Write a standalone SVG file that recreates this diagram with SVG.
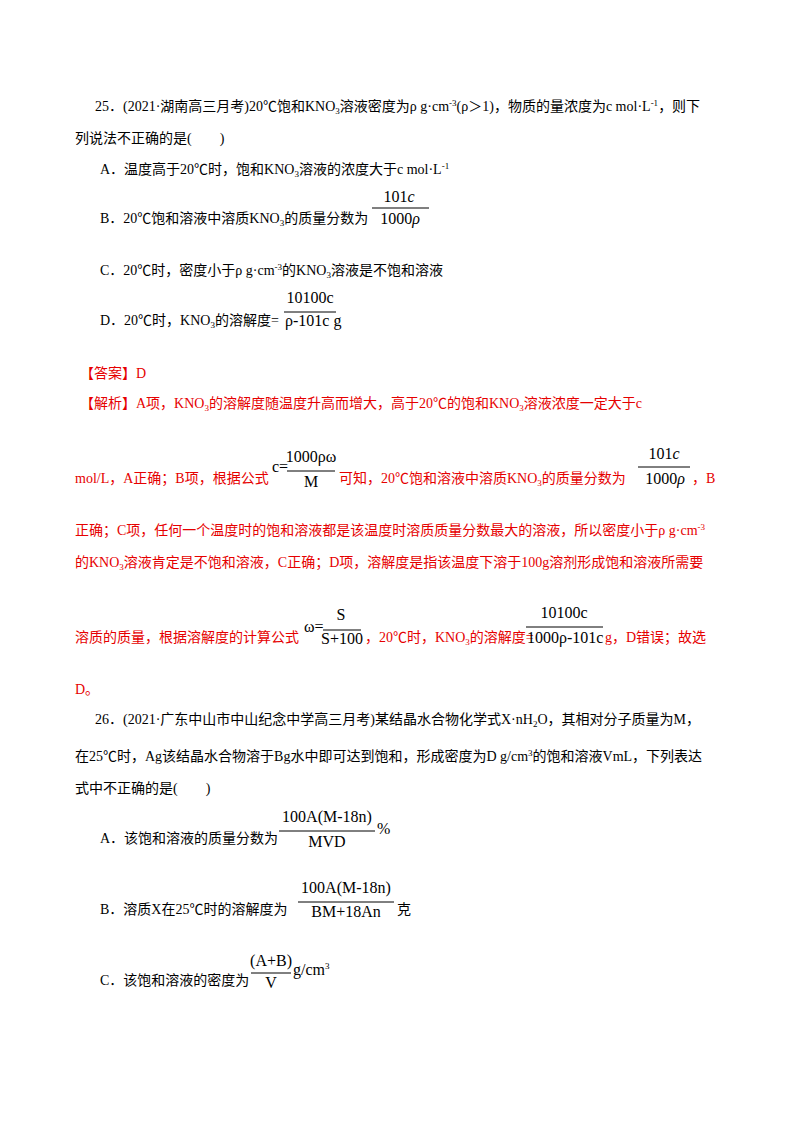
<svg xmlns="http://www.w3.org/2000/svg" width="800" height="1132" viewBox="0 0 800 1132">
<style>
text{font-family:"Liberation Serif","Noto Sans CJK SC",serif;font-size:14px;fill:#000}
.r{fill:#e60000}
.m{font-size:16px}
.i{font-style:italic}
line{stroke:#000;stroke-width:1}
</style>
<rect width="800" height="1132" fill="#fff"/>
<text x="95" y="111">25．(2021·湖南高三月考)20℃饱和KNO<tspan font-size="9" dy="3">3</tspan><tspan dy="-3">溶液密度为ρ g·cm</tspan><tspan font-size="9" dy="-5">-3</tspan><tspan dy="5">(ρ＞1)，物质的量浓度为c mol·L</tspan><tspan font-size="9" dy="-5">-1</tspan><tspan dy="5">，则下</tspan></text>
<text x="75" y="143">列说法不正确的是(　　)</text>
<text x="100" y="174">A．温度高于20℃时，饱和KNO<tspan font-size="9" dy="3">3</tspan><tspan dy="-3">溶液的浓度大于c mol·L</tspan><tspan font-size="9" dy="-5">-1</tspan></text>
<text x="100" y="223">B．20℃饱和溶液中溶质KNO<tspan font-size="9" dy="3">3</tspan><tspan dy="-3">的质量分数为</tspan></text>
<text x="399" y="202" class="m" text-anchor="middle">101<tspan class="i">c</tspan></text>
<line x1="372" y1="208" x2="429" y2="208"/>
<text x="400" y="224" class="m" text-anchor="middle">1000<tspan class="i">ρ</tspan></text>
<text x="100" y="275">C．20℃时，密度小于ρ g·cm<tspan font-size="9" dy="-5">-3</tspan><tspan dy="5">的KNO</tspan><tspan font-size="9" dy="3">3</tspan><tspan dy="-3">溶液是不饱和溶液</tspan></text>
<text x="100" y="325">D．20℃时，KNO<tspan font-size="9" dy="3">3</tspan><tspan dy="-3">的溶解度=</tspan></text>
<text x="310" y="303" class="m" text-anchor="middle">10100c</text>
<line x1="284" y1="312" x2="336" y2="312"/>
<text x="285" y="326" class="m">ρ-101c g</text>

<text x="80" y="378" class="r">【答案】D</text>
<text x="80" y="408" class="r">【解析】A项，KNO<tspan font-size="9" dy="3">3</tspan><tspan dy="-3">的溶解度随温度升高而增大，高于20℃的饱和KNO</tspan><tspan font-size="9" dy="3">3</tspan><tspan dy="-3">溶液浓度一定大于c</tspan></text>
<text x="75" y="483" class="r">mol/L，A正确；B项，根据公式</text>
<text x="272" y="472" class="m">c=</text>
<text x="311" y="462" class="m" text-anchor="middle">1000ρω</text>
<line x1="287" y1="471" x2="335" y2="471"/>
<text x="311" y="487" class="m" text-anchor="middle">M</text>
<text x="339" y="483" class="r">可知，20℃饱和溶液中溶质KNO<tspan font-size="9" dy="3">3</tspan><tspan dy="-3">的质量分数为</tspan></text>
<text x="664" y="459" class="m" text-anchor="middle">101<tspan class="i">c</tspan></text>
<line x1="638" y1="467" x2="690" y2="467"/>
<text x="665" y="484" class="m" text-anchor="middle">1000<tspan class="i">ρ</tspan></text>
<text x="692" y="483" class="r">，B</text>
<text x="75" y="535" class="r">正确；C项，任何一个温度时的饱和溶液都是该温度时溶质质量分数最大的溶液，所以密度小于ρ g·cm<tspan font-size="9" dy="-5">-3</tspan></text>
<text x="75" y="567" class="r">的KNO<tspan font-size="9" dy="3">3</tspan><tspan dy="-3">溶液肯定是不饱和溶液，C正确；D项，溶解度是指该温度下溶于100g溶剂形成饱和溶液所需要</tspan></text>
<text x="75" y="642" class="r">溶质的质量，根据溶解度的计算公式</text>
<text x="304" y="632" class="m">ω=</text>
<text x="341" y="620" class="m" text-anchor="middle">S</text>
<line x1="323" y1="630" x2="361" y2="630"/>
<text x="342" y="644" class="m" text-anchor="middle">S+100</text>
<text x="365" y="642" class="r">，20℃时，KNO<tspan font-size="9" dy="3">3</tspan><tspan dy="-3">的溶解度=</tspan></text>
<text x="564" y="618" class="m" text-anchor="middle">10100c</text>
<line x1="526" y1="627" x2="603" y2="627"/>
<text x="527" y="643" class="m">1000ρ-101c</text>
<text x="605" y="642" class="r">g，D错误；故选</text>
<text x="75" y="694" class="r">D。</text>

<text x="95" y="724">26．(2021·广东中山市中山纪念中学高三月考)某结晶水合物化学式X·nH<tspan font-size="9" dy="3">2</tspan><tspan dy="-3">O，其相对分子质量为M，</tspan></text>
<text x="75" y="761">在25℃时，Ag该结晶水合物溶于Bg水中即可达到饱和，形成密度为D g/cm<tspan font-size="9" dy="-5">3</tspan><tspan dy="5">的饱和溶液VmL，下列表达</tspan></text>
<text x="75" y="793">式中不正确的是(　　)</text>
<text x="100" y="843">A．该饱和溶液的质量分数为</text>
<text x="327" y="822" class="m" text-anchor="middle">100A(M-18n)</text>
<line x1="279" y1="831" x2="375" y2="831"/>
<text x="327" y="847" class="m" text-anchor="middle">MVD</text>
<text x="377" y="834" class="m">%</text>
<text x="100" y="914">B．溶质X在25℃时的溶解度为</text>
<text x="346" y="893" class="m" text-anchor="middle">100A(M-18n)</text>
<line x1="298" y1="902" x2="394" y2="902"/>
<text x="346" y="917" class="m" text-anchor="middle">BM+18An</text>
<text x="397" y="914">克</text>
<text x="100" y="985">C．该饱和溶液的密度为</text>
<text x="271" y="966" class="m" text-anchor="middle">(A+B)</text>
<line x1="251" y1="973" x2="291" y2="973"/>
<text x="271" y="988" class="m" text-anchor="middle">V</text>
<text x="293" y="975" class="m">g/cm<tspan font-size="9" dy="-6">3</tspan></text>
</svg>
